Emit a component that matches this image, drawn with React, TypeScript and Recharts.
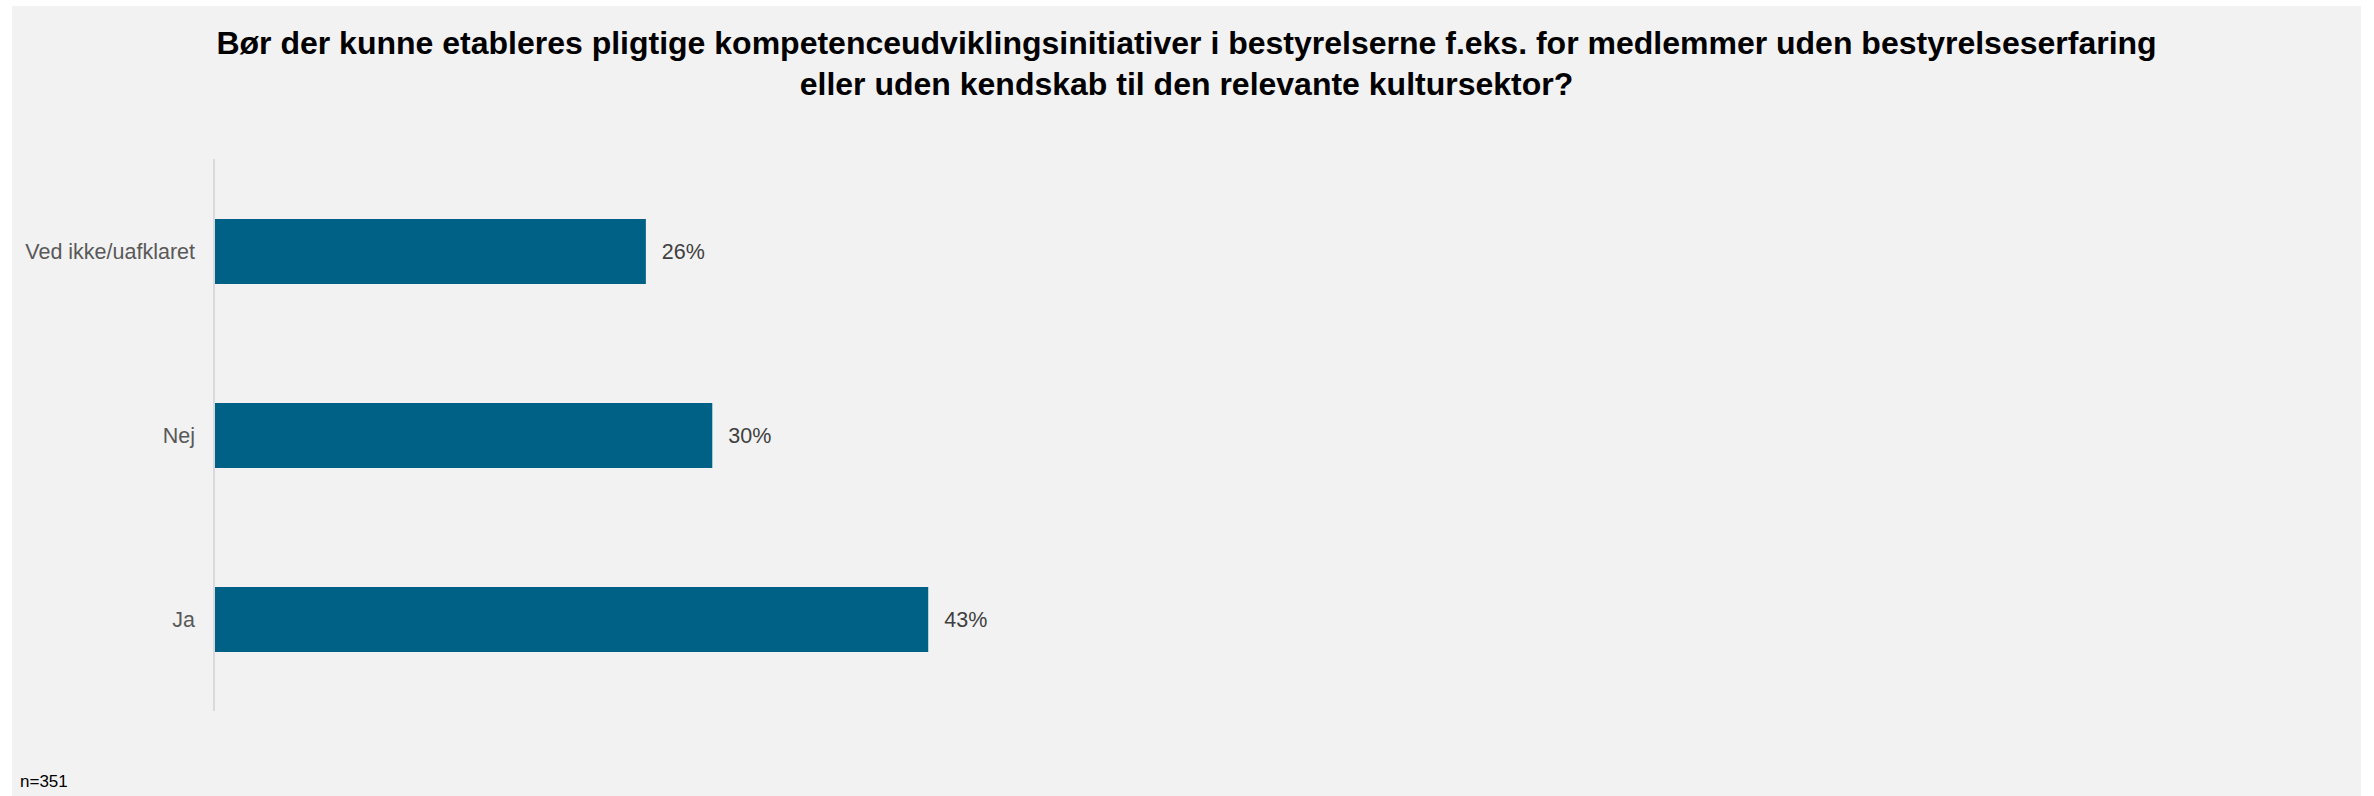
import React from "react";
import { BarChart, Bar, XAxis, YAxis, LabelList } from "recharts";

const categories = ["Ved ikke/uafklaret", "Nej", "Ja"];
const values = [26, 30, 43];
const titleLines = [
  "Bør der kunne etableres pligtige kompetenceudviklingsinitiativer i bestyrelserne f.eks. for medlemmer uden bestyrelseserfaring",
  "eller uden kendskab til den relevante kultursektor?",
];
const footnote = "n=351";

const data = categories.map((c, i) => ({ name: c, value: values[i] }));

const FONT = '"Liberation Sans", Arial, sans-serif';

export default function App() {
  return (
    <div style={{ position: "absolute", left: 0, top: 0, width: 2374, height: 796, background: "#fff", fontFamily: FONT }}>
      <div style={{ position: "absolute", left: 12, top: 6, width: 2349, height: 790, background: "#f2f2f2" }} />
      <div
        style={{
          position: "absolute",
          left: 12,
          top: 23,
          width: 2349,
          textAlign: "center",
          fontWeight: "bold",
          fontSize: 32,
          lineHeight: "41px",
          color: "#000",
        }}
      >
        {titleLines.map((t, i) => (
          <div key={i}>{t}</div>
        ))}
      </div>
      <div style={{ position: "absolute", left: 20, top: 772, fontSize: 17, color: "#000", lineHeight: "20px" }}>{footnote}</div>
      <div style={{ position: "absolute", left: 0, top: 0 }}>
        <BarChart
          width={2374}
          height={796}
          data={data}
          layout="vertical"
          margin={{ top: 159, right: 499, bottom: 85, left: 0 }}
          barCategoryGap={0}
        >
          <XAxis type="number" domain={[0, 100]} hide />
          <YAxis
            type="category"
            dataKey="name"
            width={214}
            axisLine={{ stroke: "#d9d9d9", strokeWidth: 2 }}
            tickLine={false}
            tickMargin={13}
            tick={{ fill: "#595959", fontSize: 21.5, fontFamily: FONT }}
          />
          <Bar dataKey="value" fill="#006186" barSize={65} isAnimationActive={false}>
            <LabelList
              dataKey="value"
              position="right"
              offset={16}
              formatter={(v: any) => `${v}%`}
              style={{ fill: "#404040", fontSize: 21.5, fontFamily: FONT }}
            />
          </Bar>
        </BarChart>
      </div>
    </div>
  );
}
